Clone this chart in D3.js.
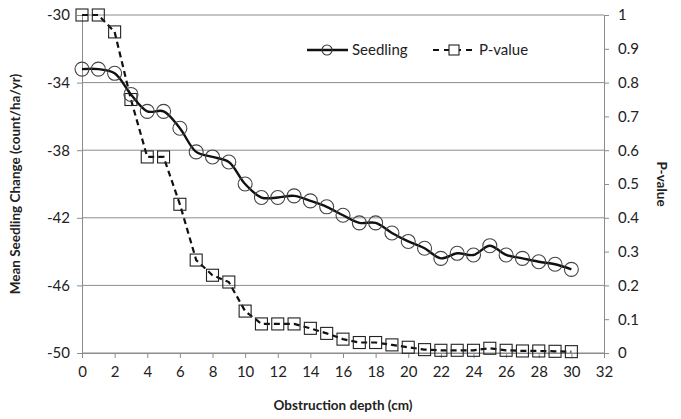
<!DOCTYPE html>
<html><head><meta charset="utf-8">
<script src="https://cdn.jsdelivr.net/npm/d3@7"></script>
<style>body{margin:0;background:#fff}svg{display:block}text{font-family:Lato,"Open Sans",sans-serif;fill:#222}</style>
</head><body><svg id="c" width="681" height="419"></svg>
<script>
const depth = d3.range(0, 31);
const seedling = [-33.2,-33.2,-33.45,-34.7,-35.7,-35.7,-36.7,-38.1,-38.4,-38.7,-40.0,-40.8,-40.8,-40.7,-41.0,-41.35,-41.85,-42.3,-42.3,-42.9,-43.4,-43.8,-44.4,-44.1,-44.2,-43.65,-44.2,-44.4,-44.6,-44.75,-45.05];
const pvalue = [1,1,0.95,0.75,0.58,0.58,0.44,0.275,0.23,0.21,0.124,0.086,0.086,0.086,0.073,0.058,0.041,0.031,0.031,0.024,0.017,0.01,0.008,0.008,0.008,0.014,0.008,0.006,0.006,0.005,0.004];
const xTicks = d3.range(0, 33, 2);
const yLeftTicks = [-30,-34,-38,-42,-46,-50];
const yRightTicks = d3.range(0, 11).map(d => d/10);

const svg = d3.select("#c");
const L = 82, R = 604, T = 15, B = 353;
const x = d3.scaleLinear().domain([0,32]).range([L,R]);
const yL = d3.scaleLinear().domain([-50,-30]).range([B,T]);
const yR = d3.scaleLinear().domain([0,1]).range([B,T]);
const grid = "#8c8c8c";

// gridlines
svg.append("g").selectAll("line").data(yLeftTicks).join("line")
  .attr("x1", L).attr("x2", R).attr("y1", d=>yL(d)).attr("y2", d=>yL(d))
  .attr("stroke", grid).attr("stroke-width", 1);

// axes
const axL = svg.append("g").attr("transform",`translate(${L},0)`)
  .call(d3.axisLeft(yL).tickValues(yLeftTicks).tickSize(5).tickPadding(7).tickFormat(d => String(d)));
const axR = svg.append("g").attr("transform",`translate(${R},0)`)
  .call(d3.axisRight(yR).tickValues(yRightTicks).tickSize(5).tickPadding(9).tickFormat(d => String(d)));
const axB = svg.append("g").attr("transform",`translate(0,${B})`)
  .call(d3.axisBottom(x).tickValues(xTicks).tickSize(5).tickPadding(8).tickFormat(d => String(d)));
[axL,axR,axB].forEach(a=>{
  a.selectAll("path").attr("stroke",grid);
  a.selectAll("line").attr("stroke",grid);
  a.selectAll("text").attr("font-size",15).style("fill","#222");
});

// P-value series
svg.append("path").datum(pvalue)
  .attr("d", d3.line().x((d,i)=>x(depth[i])).y(d=>yR(d)))
  .attr("fill","none").attr("stroke","#111").attr("stroke-width",2.2).attr("stroke-dasharray","6,4");
svg.append("g").selectAll("rect").data(pvalue).join("rect")
  .attr("x",(d,i)=>x(depth[i])-6).attr("y",d=>yR(d)-6).attr("width",12).attr("height",12)
  .attr("fill","none").attr("stroke","#222").attr("stroke-width",1.1);

// Seedling series
svg.append("path").datum(seedling)
  .attr("d", d3.line().x((d,i)=>x(depth[i])).y(d=>yL(d)).curve(d3.curveCatmullRom.alpha(0.5)))
  .attr("fill","none").attr("stroke","#111").attr("stroke-width",2.4);
svg.append("g").selectAll("circle").data(seedling).join("circle")
  .attr("cx",(d,i)=>x(depth[i])).attr("cy",d=>yL(d)).attr("r",7)
  .attr("fill","none").attr("stroke","#444").attr("stroke-width",1.1);

// legend
const lg = svg.append("g");
lg.append("line").attr("x1",307).attr("x2",348).attr("y1",50).attr("y2",50).attr("stroke","#111").attr("stroke-width",2.4);
lg.append("circle").attr("cx",327).attr("cy",50).attr("r",5).attr("fill","none").attr("stroke","#333").attr("stroke-width",1.1);
lg.append("text").attr("x",352).attr("y",55).attr("font-size",15).text("Seedling");
lg.append("line").attr("x1",433).attr("x2",476).attr("y1",50).attr("y2",50).attr("stroke","#111").attr("stroke-width",2.2).attr("stroke-dasharray","6,5");
lg.append("rect").attr("x",449).attr("y",45).attr("width",10).attr("height",10).attr("fill","#fff").attr("stroke","#222").attr("stroke-width",1.1);
lg.append("text").attr("x",479).attr("y",55).attr("font-size",15).text("P-value");

// axis titles
svg.append("text").attr("transform",`translate(20,${(T+B)/2}) rotate(-90)`).attr("text-anchor","middle")
  .attr("font-size",13.5).attr("font-weight","bold").text("Mean Seedling Change (count/ha/yr)");
svg.append("text").attr("transform",`translate(657,${(T+B)/2}) rotate(90)`).attr("text-anchor","middle")
  .attr("font-size",13.5).attr("font-weight","bold").text("P-value");
svg.append("text").attr("x",(L+R)/2).attr("y",410).attr("text-anchor","middle")
  .attr("font-size",13.5).attr("font-weight","bold").text("Obstruction depth (cm)");
</script></body></html>
